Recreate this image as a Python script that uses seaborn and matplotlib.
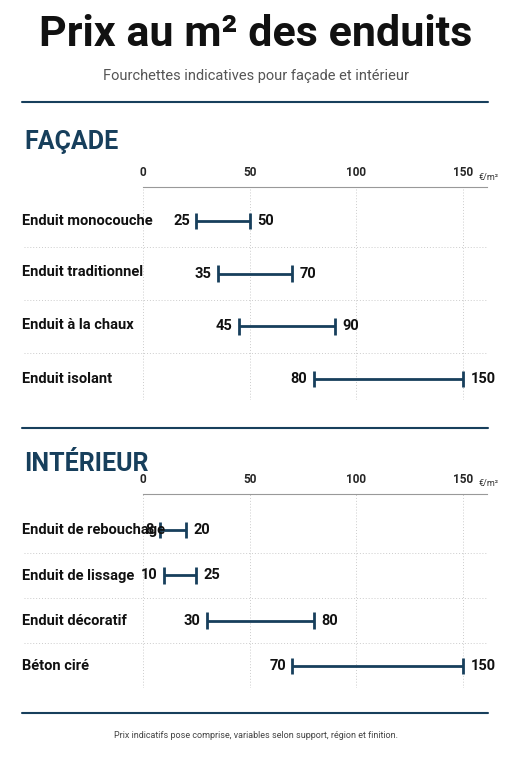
import matplotlib
matplotlib.use("Agg")
import matplotlib.pyplot as plt
import seaborn as sns
import pandas as pd

sns.set_theme(style="white")
plt.rcParams['font.family'] = ['Liberation Sans Narrow', 'Roboto', 'DejaVu Sans']

facade_labels = ["Enduit monocouche", "Enduit traditionnel", "Enduit à la chaux", "Enduit isolant"]
facade_min = [25, 35, 45, 80]
facade_max = [50, 70, 90, 150]
int_labels = ["Enduit de rebouchage", "Enduit de lissage", "Enduit décoratif", "Béton ciré"]
int_min = [8, 10, 30, 70]
int_max = [20, 25, 80, 150]
ticks = [0, 50, 100, 150]

NAVY = "#173f5c"
W, H = 511, 768
fig = plt.figure(figsize=(W/100, H/100), dpi=100)
fig.patch.set_facecolor("white")

def fx(px): return px / W
def fy(py): return 1 - py / H

fig.text(0.5, fy(35), "Prix au m² des enduits", ha="center", va="center",
         fontsize=31, fontweight="bold", color="#111111")
fig.text(0.5, fy(76), "Fourchettes indicatives pour façade et intérieur", ha="center", va="center",
         fontsize=10.5, color="#555555", family=['Roboto', 'DejaVu Sans'])
fig.text(0.5, fy(736), "Prix indicatifs pose comprise, variables selon support, région et finition.",
         ha="center", va="center", fontsize=6.5, color="#444444", family=['Roboto', 'DejaVu Sans'])
for yy in [102, 428, 713]:
    fig.add_artist(plt.Line2D([fx(22), fx(488)], [fy(yy), fy(yy)], color=NAVY, lw=1.5))

def section(title, ty, top, bottom, rows, labels, mins, maxs):
    fig.text(fx(24), fy(ty), title, ha="left", va="center", fontsize=18,
             fontweight="bold", color=NAVY)
    ax = fig.add_axes([fx(143), fy(bottom), fx(487) - fx(143), (bottom - top) / H])
    n = len(labels)
    sp = (rows[-1] - rows[0]) / (n - 1)
    ax.set_ylim(n - 1 + (bottom - rows[-1]) / sp, -(rows[0] - top) / sp)
    xmax = (487 - 143) / ((463 - 143) / 150)
    ax.set_xlim(0, xmax)
    df = pd.DataFrame({"label": labels, "lo": mins, "hi": maxs, "pos": range(n)})
    for t in ticks:
        ax.axvline(t, color="#cccccc", lw=0.7, ls=(0, (1, 2)))
    for i in range(n - 1):
        ax.hlines(i + 0.5, -56, xmax, color="#cccccc", lw=0.7, ls=(0, (1, 2)), clip_on=False)
    ax.hlines(df["pos"], df["lo"], df["hi"], color=NAVY, lw=2)
    h = 0.16 * 52 / sp
    ax.vlines(df["lo"], df["pos"] - h, df["pos"] + h, color=NAVY, lw=2)
    ax.vlines(df["hi"], df["pos"] - h, df["pos"] + h, color=NAVY, lw=2)
    for _, r in df.iterrows():
        ax.text(r.lo - 3, r.pos, f"{r.lo}", ha="right", va="center", fontsize=10.5,
                fontweight="bold", color="#111111")
        ax.text(r.hi + 3.5, r.pos, f"{r.hi}", ha="left", va="center", fontsize=10.5,
                fontweight="bold", color="#111111")
        fig.text(fx(22), fy(rows[int(r.pos)]), r.label, ha="left", va="center", fontsize=10.5,
                 fontweight="bold", color="#111111")
    ax.xaxis.tick_top()
    ax.set_xticks(ticks)
    ax.set_xticklabels([str(t) for t in ticks], fontsize=8.5, fontweight="bold")
    ax.tick_params(axis="x", length=0, pad=6)
    ax.set_yticks([])
    sns.despine(ax=ax, left=True, bottom=True, right=True, top=False)
    ax.spines["top"].set_color("#999999")
    ax.spines["top"].set_linewidth(0.8)
    ax.set_facecolor("none")
    fig.text(fx(479), fy(top - 10), "€/m²", ha="left", va="center", fontsize=6.5, color="#333333",
             family=['Roboto', 'DejaVu Sans'])
    return ax

section("FAÇADE", 142, 187, 400, [221, 272, 325, 379], facade_labels, facade_min, facade_max)
section("INTÉRIEUR", 464, 494, 688, [530, 576, 621, 666], int_labels, int_min, int_max)

fig.savefig("out.png", dpi=100)
